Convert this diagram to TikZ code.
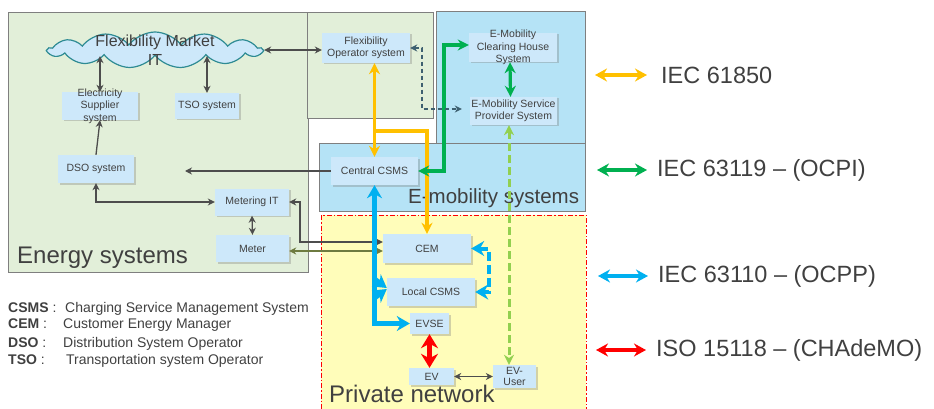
\documentclass[tikz,border=0pt]{standalone}
\usepackage{fontspec}
\setmainfont{Liberation Sans}
\usetikzlibrary{arrows.meta,shapes.symbols,shadows,calc,positioning}

\definecolor{txtgray}{HTML}{404040}
\definecolor{linkgray}{HTML}{4D4D4D}
\definecolor{energyfill}{HTML}{E2EFD9}
\definecolor{framegray}{HTML}{7F7F7F}
\definecolor{boxfill}{HTML}{CDE8FA}
\definecolor{emobfill}{HTML}{B5E3F6}
\definecolor{privfill}{HTML}{FFFDBA}
\definecolor{cloudline}{HTML}{2E8B93}
\definecolor{iecorange}{HTML}{FFC000}
\definecolor{iecgreen}{HTML}{00B050}
\definecolor{iecblue}{HTML}{00B0F0}
\definecolor{isored}{HTML}{FF0000}
\definecolor{userlime}{HTML}{92D050}
\definecolor{meterolive}{HTML}{6E7B40}
\definecolor{flexslate}{HTML}{3E6070}

\begin{document}
\begin{tikzpicture}[
    x=1pt, y=-1pt,
    >=Stealth,
    dim/.style 2 args = {minimum width=#1pt, minimum height=#2pt},
    sys/.style      = {fill=boxfill, text=txtgray, align=center, inner sep=0pt,
                       font=\fontsize{10.5}{12.5}\selectfont,
                       drop shadow={shadow xshift=1.5pt, shadow yshift=-1.5pt, opacity=.35}},
    boxlabel/.style = {text=txtgray, align=center, inner sep=0pt, font=\fontsize{10.5}{12.5}\selectfont},
    cloudtext/.style = {text=txtgray, align=center, inner sep=0pt, font=\fontsize{16}{19}\selectfont},
    area/.style     = {draw=framegray, line width=.8pt},
    title/.style    = {text=txtgray, anchor=base west, inner sep=0pt},
    link/.style     = {draw=linkgray, line width=1.3pt, >={Stealth[length=7pt,width=7pt]}},
    iec61850/.style = {draw=iecorange, line width=3.2pt, >={Stealth[length=11pt,width=11pt]}},
    iec63119/.style = {draw=iecgreen, line width=3.2pt, >={Stealth[length=11pt,width=11pt]}},
    iec63110/.style = {draw=iecblue, line width=5pt, >={Stealth[length=13pt,width=15pt]}},
    iso15118/.style = {draw=isored, line width=5pt, >={Stealth[length=14pt,width=17pt]}},
    keyarrow/.style = {line width=3.6pt, >={Stealth[length=12pt,width=13pt]}},
    legend/.style   = {text=txtgray, anchor=west, inner sep=0pt, font=\fontsize{23.5}{28}\selectfont},
    abbr/.style     = {text=txtgray, anchor=base west, inner sep=0pt, font=\fontsize{14}{17}\selectfont},
  ]
	\useasboundingbox (0,0) rectangle (934,409);

	% Bereiche
	\draw[area, fill=energyfill] (8,12) rectangle (308,272);
	\draw[area, fill=energyfill] (307,12) rectangle (433,118);
	\draw[area, fill=emobfill] (436,11) rectangle (585,143);
	\draw[area, fill=emobfill] (319,143) rectangle (585,211);
	\draw[fill=privfill, draw=isored, line width=1pt, dash pattern=on 5pt off 2pt on 1.5pt off 2pt] (321,215) rectangle (586,412);

	\node[title, font=\fontsize{24}{28}\selectfont] (energytitle) at (17,263) {Energy systems};
	\node[title, font=\fontsize{20.5}{24}\selectfont] (emobtitle) at (408,203) {E-mobility systems};
	\node[title, font=\fontsize{24}{28}\selectfont] (privtitle) at (329,402) {Private network};

	% Energy systems
	\node[cloud, cloud puffs=13, cloud puff arc=105, cloud ignores aspect, dim={214}{36},
	      fill=boxfill, draw=cloudline, line width=1.2pt, inner sep=0pt,
	      label={[cloudtext]center:{Flexibility Market\\IT}}] (market) at (155,50) {};
	\node[sys, dim={76}{28}, label={[boxlabel]center:{Electricity\\Supplier\\system}}] (supplier) at (100,106) {};
	\node[sys, dim={64}{26}] (tso) at (207,106) {TSO system};
	\node[sys, dim={76}{28}] (dso) at (96,169) {DSO system};
	\node[sys, dim={74}{27}] (meterit) at (252,202) {Metering IT};
	\node[sys, dim={73}{27}] (meter) at (252.5,248.5) {Meter};
	\node[sys, dim={88}{30}] (flexop) at (366,48) {Flexibility\\Operator system};

	% E-mobility systems
	\node[sys, dim={88}{29}, label={[boxlabel]center:{E-Mobility\\Clearing House\\System}}] (clearing) at (513,47.5) {};
	\node[sys, dim={87}{28}] (emsp) at (513.5,111) {E-Mobility Service\\Provider System};
	\node[sys, dim={87}{28}] (ccsms) at (374.5,171) {Central CSMS};

	% Private network
	\node[sys, dim={88}{29}] (cem) at (427,248.5) {CEM};
	\node[sys, dim={88}{28}] (lcsms) at (431,292) {Local CSMS};
	\node[sys, dim={39}{21}] (evse) at (429.5,323.5) {EVSE};
	\node[sys, dim={45}{17}] (ev) at (431.5,376.5) {EV};
	\node[sys, dim={43}{23}, font=\fontsize{10.5}{11}\selectfont] (evuser) at (514.5,376.5) {EV-\\User};

	% Verbindungen Energy systems
	\draw[link,<->] (market.east) -- (market.east -| flexop.west);
	\draw[link,<->] (supplier.north) -- (supplier.north |- market.south);
	\draw[link,<->] (tso.north) -- (tso.north |- market.south);
	\draw[link,->] (dso.north) -- (supplier.south);
	\draw[link,<->] (dso.south) |- (meterit.west);
	\draw[link,<->] (meterit.south) -- (meter.north);
	\coordinate (esys) at (185,171);
	\draw[link,->] (ccsms.west) -- (esys);
	\coordinate (mbend) at (300,242);
	\draw[link,<->] (meterit.east) -| (mbend) -- (mbend -| cem.west);
	\draw[link, draw=meterolive, <->] ([yshift=-2.5pt]meter.east) -- ([yshift=-2.5pt]meter.east -| cem.west);

	% IEC 61850
	\draw[iec61850,<->] (ccsms.north |- flexop.south) -- (ccsms.north);
	\coordinate (obranch) at (374.5,131);
	\draw[iec61850,->] (obranch) -| (cem.north);

	% IEC 63119
	\coordinate (gbend) at (444,45);
	\draw[iec63119,<->] (ccsms.east) -| (gbend) -- (gbend -| clearing.west);
	\draw[iec63119,<->] ([xshift=-3pt]clearing.south) -- ([xshift=-3pt]emsp.north);

	% Flexibility Operator <-> EMSP
	\coordinate (fbend) at (422,109);
	\draw[link, draw=flexslate, dash pattern=on 4pt off 3pt, shorten >=8pt, <->] (flexop.east) -| (fbend) -- (fbend -| emsp.west);

	% EMSP <-> EV-User
	\draw[draw=userlime, line width=3pt, dash pattern=on 8pt off 4pt, >={Stealth[length=10pt,width=10pt]}, <->]
	  ([xshift=-4.5pt]emsp.south) -- ([xshift=-4.5pt]emsp.south |- evuser.north);

	% IEC 63110
	\draw[iec63110,<->] (ccsms.south) |- (evse.west);
	\coordinate (ltop) at (374.5,279);
	\coordinate (lbot) at (374.5,298);
	\draw[iec63110,->] (ltop) -- ([yshift=4pt]lcsms.west);
	\draw[iec63110,->] (lbot) -- ([yshift=3pt]lcsms.west);
	\coordinate (bdash) at (489,270);
	\draw[iec63110, line width=4pt, dash pattern=on 9pt off 4pt, <->] (cem.east) -| (bdash) |- (lcsms.east);

	% ISO 15118
	\draw[iso15118,<->] (evse.south) -- (evse.south |- ev.north);
	\draw[link,<->] (ev.east) -- (evuser.west);

	% Legende Protokolle
	\node[legend] (k61850) at (661,75) {IEC 61850};
	\node[legend] (k63119) at (657,170) {IEC 63119 – (OCPI)};
	\node[legend] (k63110) at (658,276) {IEC 63110 – (OCPP)};
	\node[legend] (k15118) at (656,350) {ISO 15118 – (CHAdeMO)};
	\draw[keyarrow, draw=iecorange, <->] ([xshift=-66pt]k61850.west) -- ([xshift=-14pt]k61850.west);
	\draw[keyarrow, draw=iecgreen, <->] ([xshift=-60pt]k63119.west) -- ([xshift=-10pt]k63119.west);
	\draw[keyarrow, draw=iecblue, <->] ([xshift=-60pt]k63110.west) -- ([xshift=-10pt]k63110.west);
	\draw[keyarrow, draw=isored, <->] ([xshift=-60pt]k15118.west) -- ([xshift=-10pt]k15118.west);

	% Legende Abkuerzungen
	\node[abbr] (acsms) at (8,312) {\makebox[57pt][l]{\textbf{CSMS} :}Charging Service Management System};
	\node[abbr] (acem) at (8,328) {\makebox[55pt][l]{\textbf{CEM} :}Customer Energy Manager};
	\node[abbr] (adso) at (8,347) {\makebox[55pt][l]{\textbf{DSO} :}Distribution System Operator};
	\node[abbr] (atso) at (8,364) {\makebox[58pt][l]{\textbf{TSO} :}Transportation system Operator};

\end{tikzpicture}
\end{document}
